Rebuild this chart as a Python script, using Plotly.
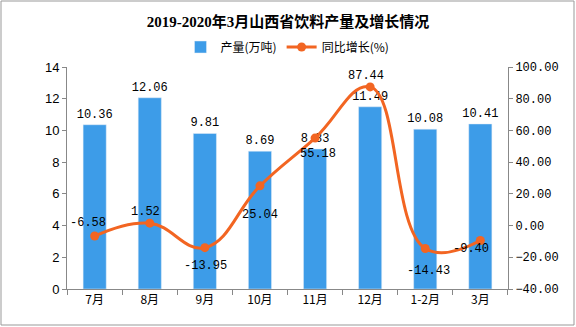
import plotly.graph_objects as go

categories = ["7月", "8月", "9月", "10月", "11月", "12月", "1-2月", "3月"]
output_vals = [10.36, 12.06, 9.81, 8.69, 8.83, 11.49, 10.08, 10.41]
growth_vals = [-6.58, 1.52, -13.95, 25.04, 55.18, 87.44, -14.43, -9.40]
# pixel offsets of the growth labels from their points
label_dx = [-7, -4, 1, 0, 3, -4, 3, -9]
label_dy = [-13, -11, 18, 29, 16, -11, 23, 9]

num_font = "Liberation Mono, Noto Sans CJK SC"
cjk_font = "Noto Sans CJK SC"

fig = go.Figure()
fig.add_trace(go.Bar(
    x=categories, y=output_vals, name="产量(万吨)",
    marker=dict(color="#3d9ce8"),
    text=[f"{v:.2f}" for v in output_vals], textposition="outside",
    constraintext="none",
    textfont=dict(family=num_font, size=12, color="#000"),
    cliponaxis=False,
))
fig.add_trace(go.Scatter(
    x=categories, y=growth_vals, name="同比增长(%)", yaxis="y2",
    mode="lines+markers",
    line=dict(color="#f26522", width=3, shape="spline", smoothing=1.2),
    marker=dict(size=9, color="#f26522"),
    cliponaxis=False,
))

annotations = []
for c, v, dx, dy in zip(categories, growth_vals, label_dx, label_dy):
    annotations.append(dict(
        x=c, y=v, xref="x", yref="y2", text=f"{v:.2f}", showarrow=False,
        xshift=dx, yshift=-dy,
        font=dict(family=num_font, size=12, color="#000")))

W, H = 576, 327
L, R, T, B = 67, 68, 67, 38
pw, ph = W - L - R, H - T - B

fig.update_layout(
    width=W, height=H,
    margin=dict(l=L, r=R, t=T, b=B),
    paper_bgcolor="white", plot_bgcolor="white",
    bargap=0.58,
    annotations=annotations,
    title=dict(text="<b>2019-2020年3月山西省饮料产量及增长情况</b>",
               x=0.5, xanchor="center", y=1 - 22 / H, yanchor="middle",
               font=dict(family="Liberation Serif, " + cjk_font, size=15, color="#000")),
    legend=dict(orientation="h", x=0.5, xanchor="center",
                y=1 + 20 / ph, yanchor="middle",
                font=dict(family=cjk_font, size=12, color="#000"),
                bgcolor="rgba(0,0,0,0)"),
    xaxis=dict(type="category", showline=True, linecolor="#888", linewidth=1,
               ticks="outside", tickson="boundaries", ticklen=5, tickcolor="#888",
               tickfont=dict(family=cjk_font, size=12, color="#000"),
               showgrid=False),
    yaxis=dict(range=[0, 14], dtick=2, showline=True, linecolor="#888",
               ticks="outside", ticklen=4, tickcolor="#888", showgrid=False,
               tickfont=dict(family="Liberation Sans", size=13, color="#000"),
               zeroline=False),
    yaxis2=dict(range=[-40, 100], dtick=20, overlaying="y", side="right",
                showline=True, linecolor="#888", ticks="outside", ticklen=4,
                tickcolor="#888", showgrid=False, tickformat=".2f",
                tickfont=dict(family=num_font, size=12, color="#000"),
                zeroline=False),
    shapes=[dict(type="rect", xref="paper", yref="paper",
                 x0=(1 - L) / pw, x1=(W - 2 - L) / pw,
                 y0=(H - B - (H - 2)) / ph, y1=(H - B - 1) / ph,
                 line=dict(color="#999", width=1))],
)

fig.write_html("out.html")
